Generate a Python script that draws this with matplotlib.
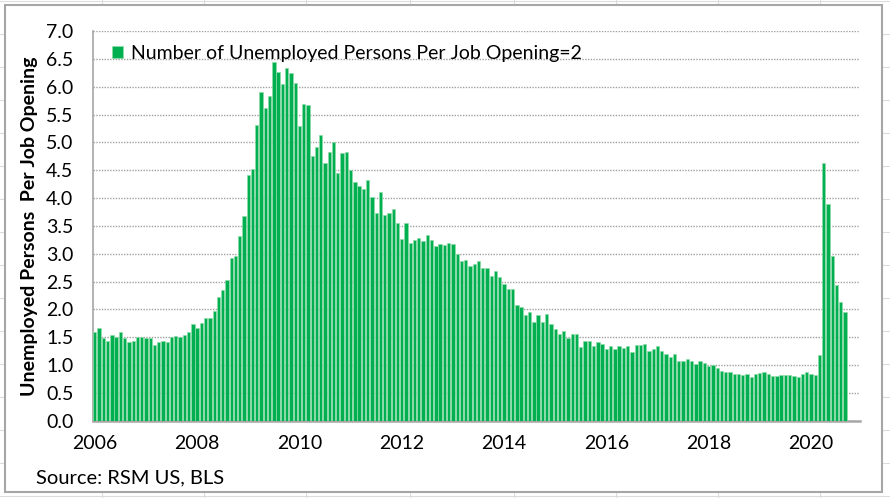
import numpy as np
import pandas as pd
import matplotlib
matplotlib.use("Agg")
import matplotlib.pyplot as plt
from matplotlib.patches import Rectangle
from matplotlib.lines import Line2D

# ---- data (monthly, Jan 2006 - Sep 2020) ----
start_month = "2006-01"
v2006 = [1.60, 1.67, 1.49, 1.44, 1.54, 1.50, 1.60, 1.49, 1.42, 1.44, 1.50, 1.50]
v2007 = [1.49, 1.49, 1.36, 1.41, 1.43, 1.42, 1.51, 1.53, 1.51, 1.54, 1.59, 1.73]
v2008 = [1.66, 1.75, 1.85, 1.84, 1.97, 2.22, 2.34, 2.53, 2.92, 2.95, 3.32, 3.68]
v2009 = [4.41, 4.53, 5.32, 5.91, 5.62, 5.84, 6.45, 6.26, 6.04, 6.33, 6.25, 6.07]
v2010 = [5.30, 5.69, 5.67, 4.76, 4.92, 5.14, 4.63, 4.83, 5.00, 4.45, 4.81, 4.82]
v2011 = [4.51, 4.29, 4.22, 4.17, 4.32, 4.02, 3.73, 4.10, 3.69, 3.73, 3.81, 3.56]
v2012 = [3.26, 3.55, 3.19, 3.25, 3.28, 3.23, 3.34, 3.24, 3.13, 3.17, 3.16, 3.19]
v2013 = [3.18, 2.99, 2.86, 2.88, 2.78, 2.81, 2.87, 2.74, 2.74, 2.60, 2.69, 2.59]
v2014 = [2.45, 2.37, 2.37, 2.07, 2.05, 1.89, 1.95, 1.78, 1.89, 1.77, 1.91, 1.74]
v2015 = [1.65, 1.56, 1.61, 1.49, 1.56, 1.55, 1.32, 1.44, 1.44, 1.35, 1.42, 1.38]
v2016 = [1.28, 1.34, 1.29, 1.35, 1.31, 1.34, 1.24, 1.36, 1.36, 1.38, 1.26, 1.28]
v2017 = [1.34, 1.25, 1.20, 1.14, 1.19, 1.08, 1.07, 1.11, 1.08, 1.02, 1.07, 1.04]
v2018 = [0.98, 1.00, 0.94, 0.90, 0.87, 0.88, 0.83, 0.84, 0.82, 0.83, 0.78, 0.84]
v2019 = [0.86, 0.87, 0.83, 0.80, 0.80, 0.82, 0.82, 0.82, 0.81, 0.78, 0.84, 0.87]
v2020 = [0.83, 0.82, 1.18, 4.62, 3.90, 2.95, 2.43, 2.13, 1.95]

values = (v2006 + v2007 + v2008 + v2009 + v2010 + v2011 + v2012 + v2013 +
          v2014 + v2015 + v2016 + v2017 + v2018 + v2019 + v2020)
dates = pd.date_range(start_month, periods=len(values), freq="MS")

x_tick_years = [2006, 2008, 2010, 2012, 2014, 2016, 2018, 2020]
y_ticks = [0.0, 0.5, 1.0, 1.5, 2.0, 2.5, 3.0, 3.5, 4.0, 4.5, 5.0, 5.5, 6.0, 6.5, 7.0]
series_label = "Number of Unemployed Persons Per Job Opening=2"
y_title = "Unemployed Persons  Per Job Opening"
source_text = "Source: RSM US, BLS"

FONT = ["Lato", "DejaVu Sans"]
plt.rcParams["font.family"] = FONT

W, H = 890, 498
fig = plt.figure(figsize=(W / 100, H / 100), dpi=100)
fig.patch.set_facecolor("white")

# spreadsheet cell lines behind the chart
cell_col = "#dcdcdc"
for xc in [102, 204, 306, 410, 514, 616, 718, 820]:
    fig.add_artist(Line2D([xc / W, xc / W], [0, 1], transform=fig.transFigure,
                          color=cell_col, lw=0.8, zorder=0))
for yc in np.arange(1, H, 33):
    fig.add_artist(Line2D([0, 1], [1 - yc / H, 1 - yc / H], transform=fig.transFigure,
                          color=cell_col, lw=0.8, zorder=0))

# chart area frame
fig.add_artist(Rectangle((5 / W, 1 - 492 / H), (882 - 5) / W, (492 - 5) / H,
                         transform=fig.transFigure, facecolor="white",
                         edgecolor="#a6a6a6", lw=1.5, zorder=0.5))

left, right, top, bottom = 92.7, 860, 31, 420.7
ax = fig.add_axes([left / W, 1 - bottom / H, (right - left) / W, (bottom - top) / H])
ax.set_facecolor("none")
ax.set_zorder(2)

xpos = np.arange(len(values))
ax.bar(xpos, values, width=0.78, color="#00B050", edgecolor="#8fdcaa",
       linewidth=0.5, label=series_label, zorder=3)

ax.set_xlim(-0.5, 179.5)
ax.set_ylim(0, 7.0)
ax.set_yticks(y_ticks)
ax.set_yticklabels([f"{t:.1f}" for t in y_ticks], fontsize=14)
tick_pos = [int(np.where((dates.year == yr) & (dates.month == 1))[0][0]) for yr in x_tick_years]
ax.set_xticks(tick_pos)
ax.set_xticklabels([str(y) for y in x_tick_years], fontsize=14)
ax.tick_params(axis="both", length=0, colors="black")
ax.tick_params(axis="y", pad=14)
ax.tick_params(axis="x", pad=10)

ax.yaxis.grid(True, linestyle=(0, (1, 1)), color="#a0a0a0", lw=1.0, zorder=0)
ax.set_axisbelow(True)
for s in ["top", "right"]:
    ax.spines[s].set_visible(False)
ax.spines["left"].set_color("#a6a6a6")
ax.spines["left"].set_linewidth(1.2)
ax.spines["bottom"].set_color("#a6a6a6")
ax.spines["bottom"].set_linewidth(1.8)

ax.set_ylabel(y_title, fontsize=14, fontweight="bold")
ax.yaxis.set_label_coords(-(92.7 - 30) / (right - left), 0.5)
ax.yaxis.label.set_va("center")

leg = ax.legend(loc="upper left", bbox_to_anchor=(0.008, 1.0), frameon=False,
                fontsize=14, handlelength=0.55, handleheight=0.55, handletextpad=0.4,
                borderaxespad=0.3)

fig.text(36 / W, 1 - 478 / H, source_text, fontsize=14.5, ha="left", va="center")

fig.savefig("out.png", dpi=100)
